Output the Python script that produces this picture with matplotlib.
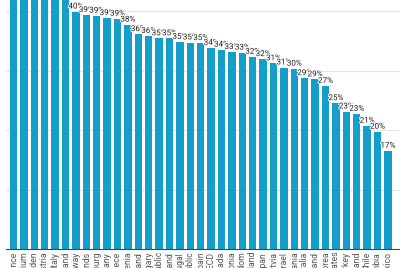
import matplotlib
matplotlib.use("Agg")
import matplotlib.pyplot as plt
import matplotlib.patheffects as pe
import numpy as np

countries = ["France", "Belgium", "Sweden", "Austria", "Italy", "Finland",
             "Norway", "Netherlands", "Luxembourg", "Germany", "Greece",
             "Slovenia", "Iceland", "Hungary", "Czech Republic", "Poland",
             "Portugal", "Slovak Republic", "Spain", "OECD", "Canada",
             "Estonia", "United Kingdom", "New Zealand", "Japan", "Latvia",
             "Israel", "Lithuania", "Australia", "Switzerland", "Korea",
             "United States", "Turkey", "Ireland", "Chile", "Colombia",
             "Mexico"]
values = [45.4, 42.9, 42.9, 42.4, 42.4, 42.2,
          39.9, 39.3, 39.2, 38.8, 38.7,
          37.7, 36.1, 35.8, 35.4, 35.4,
          34.8, 34.7, 34.6, 33.8, 33.5,
          33.1, 33.0, 32.3, 31.9, 31.2,
          30.5, 30.3, 28.7, 28.5, 27.4,
          24.5, 23.1, 22.7, 20.7, 19.7,
          16.5]
yticks = [10, 20, 30, 40]

W, H = 400, 268
fig = plt.figure(figsize=(W / 100, H / 100), dpi=100)
ax = fig.add_axes([6 / W, 19 / H, 394 / W, 249 / H])

x = np.arange(len(countries))
bar_color = "#169ecb"
ax.bar(x, values, width=0.7, color=bar_color, zorder=2)

ax.set_xlim(-0.72, -0.72 + 394 / 10.4)
ax.set_ylim(0, 249 / 5.95)

ax.set_yticks(yticks)
ax.yaxis.grid(True, color="#e3e3e3", linewidth=0.8, zorder=0)
ax.tick_params(axis="y", left=False, labelleft=False)

ax.set_xticks(x)
ax.set_xticklabels(countries, rotation=90, fontsize=6.2, color="#555555",
                   family=["Roboto", "DejaVu Sans"], ha="center", va="top")
ax.tick_params(axis="x", length=0, pad=2)

for s in ["top", "right", "left"]:
    ax.spines[s].set_visible(False)
ax.spines["bottom"].set_color("#444444")
ax.spines["bottom"].set_linewidth(0.8)

for xi, v in zip(x, values):
    lab = f"{int(np.floor(v + 0.5))}%"
    t = ax.annotate(lab, (xi, v), xytext=(0, 1.5), textcoords="offset points",
                    ha="center", va="bottom", fontsize=5.8,
                    family=["Roboto", "DejaVu Sans"], color="#222222",
                    zorder=3, annotation_clip=True, clip_on=True)
    t.set_path_effects([pe.withStroke(linewidth=1.4, foreground="white")])

fig.savefig("out.png", dpi=100)
